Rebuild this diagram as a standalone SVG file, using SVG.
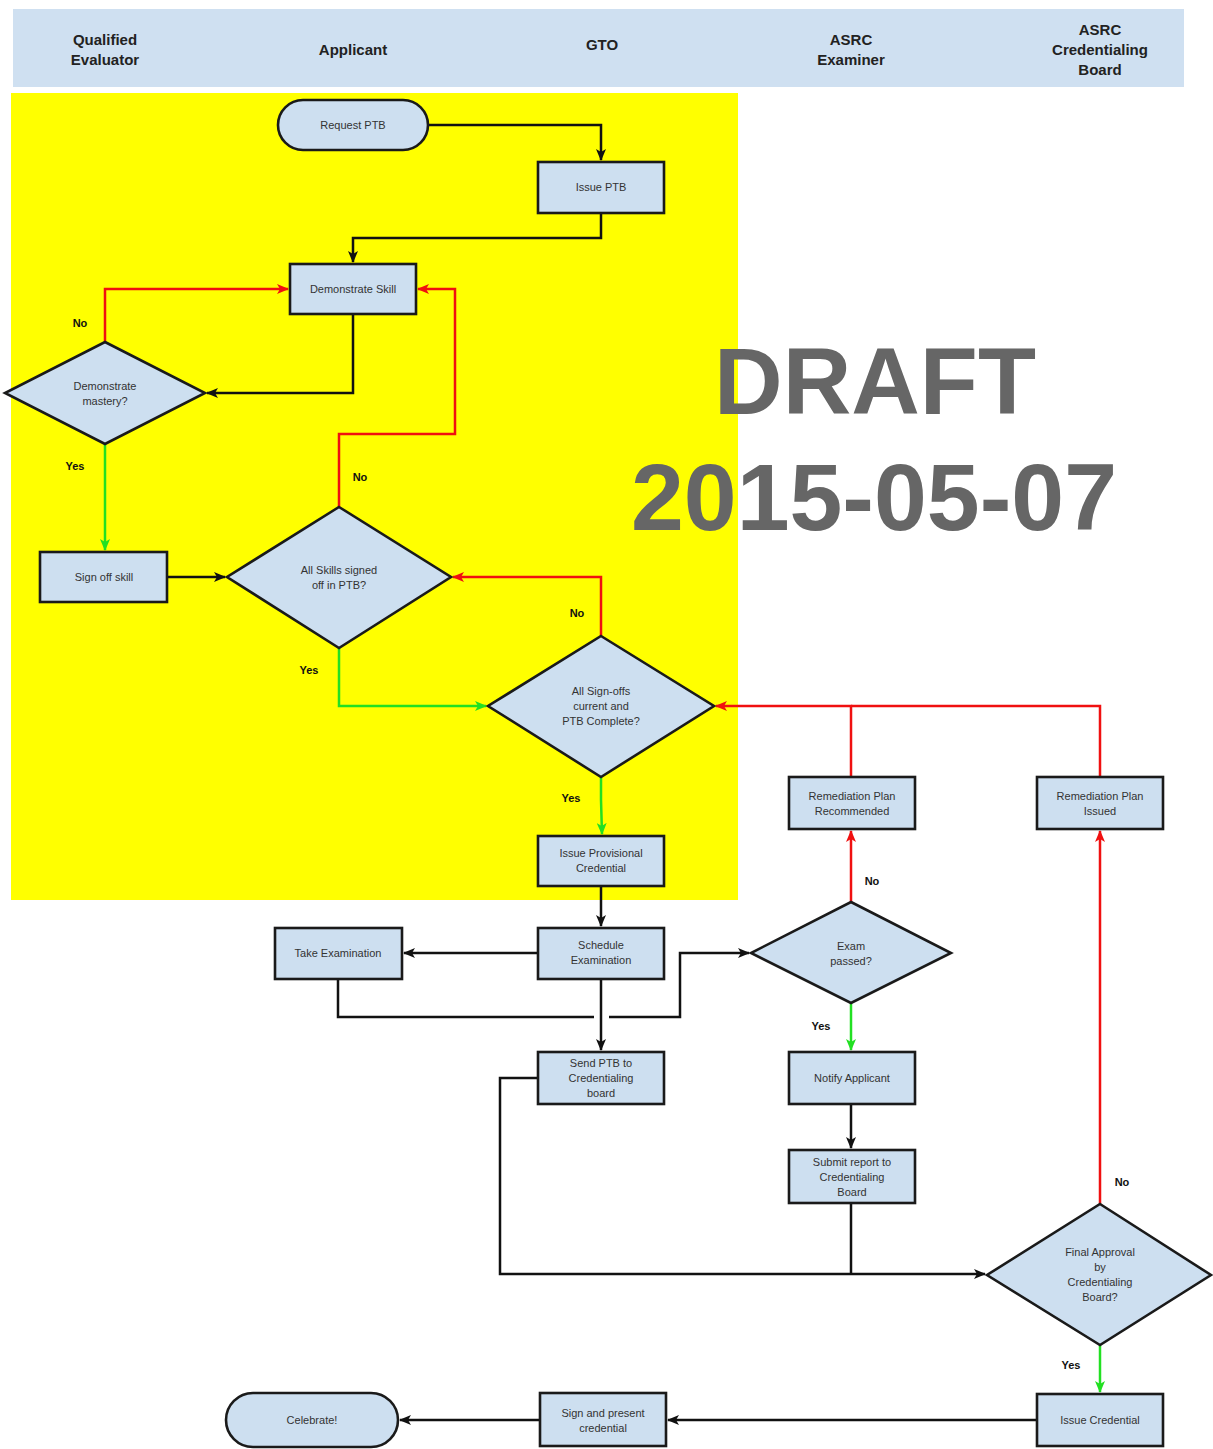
<svg xmlns="http://www.w3.org/2000/svg" width="1213" height="1449" viewBox="0 0 1213 1449">
<style>
.node{fill:#cddff0;stroke:#1a1a1a;stroke-width:2.6}
.t{font-family:"Liberation Sans",Arial,sans-serif;font-size:11px;fill:#333;text-anchor:middle}
.hd{font-family:"Liberation Sans",Arial,sans-serif;font-size:15px;font-weight:bold;fill:#222;text-anchor:middle}
.lb{font-family:"Liberation Sans",Arial,sans-serif;font-size:11px;font-weight:bold;fill:#111;text-anchor:middle}
.k{fill:none;stroke:#111;stroke-width:2.5}
.r{fill:none;stroke:#f01010;stroke-width:2.5}
.g{fill:none;stroke:#22e022;stroke-width:2.5}
.draft{font-family:"Liberation Sans",Arial,sans-serif;font-size:95px;font-weight:bold;fill:#666;text-anchor:middle}
</style>
<defs>
<marker id="ak" viewBox="0 0 12 10" refX="11" refY="5" markerWidth="12" markerHeight="10" markerUnits="userSpaceOnUse" orient="auto"><path d="M0,0 L12,5 L0,10 L3,5 z" fill="#111"/></marker>
<marker id="ar" viewBox="0 0 12 10" refX="11" refY="5" markerWidth="12" markerHeight="10" markerUnits="userSpaceOnUse" orient="auto"><path d="M0,0 L12,5 L0,10 L3,5 z" fill="#f01010"/></marker>
<marker id="ag" viewBox="0 0 12 10" refX="11" refY="5" markerWidth="12" markerHeight="10" markerUnits="userSpaceOnUse" orient="auto"><path d="M0,0 L12,5 L0,10 L3,5 z" fill="#22e022"/></marker>
</defs>
<rect width="1213" height="1449" fill="#fff"/>
<g id="header">
<rect x="13" y="9" width="1171" height="78" fill="#cfe0f1"/>
<text class="hd" x="105" y="45">Qualified</text>
<text class="hd" x="105" y="65">Evaluator</text>
<text class="hd" x="353" y="55">Applicant</text>
<text class="hd" x="602" y="50">GTO</text>
<text class="hd" x="851" y="45">ASRC</text>
<text class="hd" x="851" y="65">Examiner</text>
<text class="hd" x="1100" y="35">ASRC</text>
<text class="hd" x="1100" y="55">Credentialing</text>
<text class="hd" x="1100" y="75">Board</text>
</g>
<rect id="highlight" x="11" y="93" width="727" height="807" fill="#ffff00"/>
<g id="watermark">
<text class="draft" x="875" y="414">DRAFT</text>
<text class="draft" x="874" y="530">2015-05-07</text>
</g>
<g id="connectors">
<path class="k" d="M428,125 H601 V160" marker-end="url(#ak)"/>
<path class="k" d="M601,213 V238 H353 V262" marker-end="url(#ak)"/>
<path class="k" d="M353,314 V393 H207" marker-end="url(#ak)"/>
<path class="r" d="M105,342 V289 H288" marker-end="url(#ar)"/>
<path class="g" d="M105,444 V550" marker-end="url(#ag)"/>
<path class="k" d="M167,577 H225" marker-end="url(#ak)"/>
<path class="r" d="M339,507 V434 H455 V289 H418" marker-end="url(#ar)"/>
<path class="g" d="M339,648 V706 H486" marker-end="url(#ag)"/>
<path class="r" d="M601,636 V577 H453" marker-end="url(#ar)"/>
<path class="g" d="M601,777 L601,800 L602,834" marker-end="url(#ag)"/>
<path class="k" d="M601,886 V926" marker-end="url(#ak)"/>
<path class="k" d="M538,953 H404" marker-end="url(#ak)"/>
<path class="k" d="M338,979 V1017 H594"/>
<path class="k" d="M609,1017 H680 V953 H749" marker-end="url(#ak)"/>
<path class="k" d="M601,979 V1050" marker-end="url(#ak)"/>
<path class="r" d="M851,902 V831" marker-end="url(#ar)"/>
<path class="g" d="M851,1003 V1050" marker-end="url(#ag)"/>
<path class="k" d="M851,1104 V1148" marker-end="url(#ak)"/>
<path class="r" d="M851,777 V706 H716" marker-end="url(#ar)"/>
<path class="r" d="M1100,777 V706 H851"/>
<path class="k" d="M538,1078 H500 V1274 H985" marker-end="url(#ak)"/>
<path class="k" d="M851,1203 V1274"/>
<path class="r" d="M1100,1204 V831" marker-end="url(#ar)"/>
<path class="g" d="M1100,1345 V1392" marker-end="url(#ag)"/>
<path class="k" d="M1037,1420 H668" marker-end="url(#ak)"/>
<path class="k" d="M540,1420 H400" marker-end="url(#ak)"/>
</g>
<g id="labels">
<text class="lb" x="80" y="327">No</text>
<text class="lb" x="75" y="470">Yes</text>
<text class="lb" x="360" y="481">No</text>
<text class="lb" x="309" y="674">Yes</text>
<text class="lb" x="577" y="617">No</text>
<text class="lb" x="571" y="802">Yes</text>
<text class="lb" x="872" y="885">No</text>
<text class="lb" x="821" y="1030">Yes</text>
<text class="lb" x="1122" y="1186">No</text>
<text class="lb" x="1071" y="1369">Yes</text>
</g>
<g id="request-ptb"><rect class="node" x="278" y="100" width="150" height="50" rx="25"/><text class="t" x="353" y="129">Request PTB</text></g>
<g id="issue-ptb"><rect class="node" x="538" y="162" width="126" height="51"/><text class="t" x="601" y="191">Issue PTB</text></g>
<g id="demonstrate-skill"><rect class="node" x="290" y="264" width="126" height="50"/><text class="t" x="353" y="293">Demonstrate Skill</text></g>
<g id="demonstrate-mastery"><polygon class="node" points="105,342 205,393 105,444 5,393"/><text class="t" x="105" y="390">Demonstrate</text><text class="t" x="105" y="405">mastery?</text></g>
<g id="sign-off-skill"><rect class="node" x="40" y="552" width="127" height="50"/><text class="t" x="104" y="581">Sign off skill</text></g>
<g id="all-skills"><polygon class="node" points="339,507 451,577 339,648 227,577"/><text class="t" x="339" y="574">All Skills signed</text><text class="t" x="339" y="589">off in PTB?</text></g>
<g id="all-signoffs"><polygon class="node" points="601,636 714,706 601,777 488,706"/><text class="t" x="601" y="695">All Sign-offs</text><text class="t" x="601" y="710">current and</text><text class="t" x="601" y="725">PTB Complete?</text></g>
<g id="issue-provisional"><rect class="node" x="538" y="836" width="126" height="50"/><text class="t" x="601" y="857">Issue Provisional</text><text class="t" x="601" y="872">Credential</text></g>
<g id="remediation-recommended"><rect class="node" x="789" y="777" width="126" height="52"/><text class="t" x="852" y="800">Remediation Plan</text><text class="t" x="852" y="815">Recommended</text></g>
<g id="remediation-issued"><rect class="node" x="1037" y="777" width="126" height="52"/><text class="t" x="1100" y="800">Remediation Plan</text><text class="t" x="1100" y="815">Issued</text></g>
<g id="take-examination"><rect class="node" x="275" y="928" width="127" height="51"/><text class="t" x="338" y="957">Take Examination</text></g>
<g id="schedule-examination"><rect class="node" x="538" y="928" width="126" height="51"/><text class="t" x="601" y="949">Schedule</text><text class="t" x="601" y="964">Examination</text></g>
<g id="exam-passed"><polygon class="node" points="851,902 951,953 851,1003 751,953"/><text class="t" x="851" y="950">Exam</text><text class="t" x="851" y="965">passed?</text></g>
<g id="send-ptb"><rect class="node" x="538" y="1052" width="126" height="52"/><text class="t" x="601" y="1067">Send PTB to</text><text class="t" x="601" y="1082">Credentialing</text><text class="t" x="601" y="1097">board</text></g>
<g id="notify-applicant"><rect class="node" x="789" y="1052" width="126" height="52"/><text class="t" x="852" y="1082">Notify Applicant</text></g>
<g id="submit-report"><rect class="node" x="789" y="1150" width="126" height="53"/><text class="t" x="852" y="1166">Submit report to</text><text class="t" x="852" y="1181">Credentialing</text><text class="t" x="852" y="1196">Board</text></g>
<g id="final-approval"><polygon class="node" points="1100,1204 1211,1275 1100,1345 987,1275"/><text class="t" x="1100" y="1256">Final Approval</text><text class="t" x="1100" y="1271">by</text><text class="t" x="1100" y="1286">Credentialing</text><text class="t" x="1100" y="1301">Board?</text></g>
<g id="celebrate"><rect class="node" x="226" y="1393" width="172" height="54" rx="27"/><text class="t" x="312" y="1424">Celebrate!</text></g>
<g id="sign-present"><rect class="node" x="540" y="1393" width="126" height="53"/><text class="t" x="603" y="1417">Sign and present</text><text class="t" x="603" y="1432">credential</text></g>
<g id="issue-credential"><rect class="node" x="1037" y="1394" width="126" height="52"/><text class="t" x="1100" y="1424">Issue Credential</text></g>
</svg>
